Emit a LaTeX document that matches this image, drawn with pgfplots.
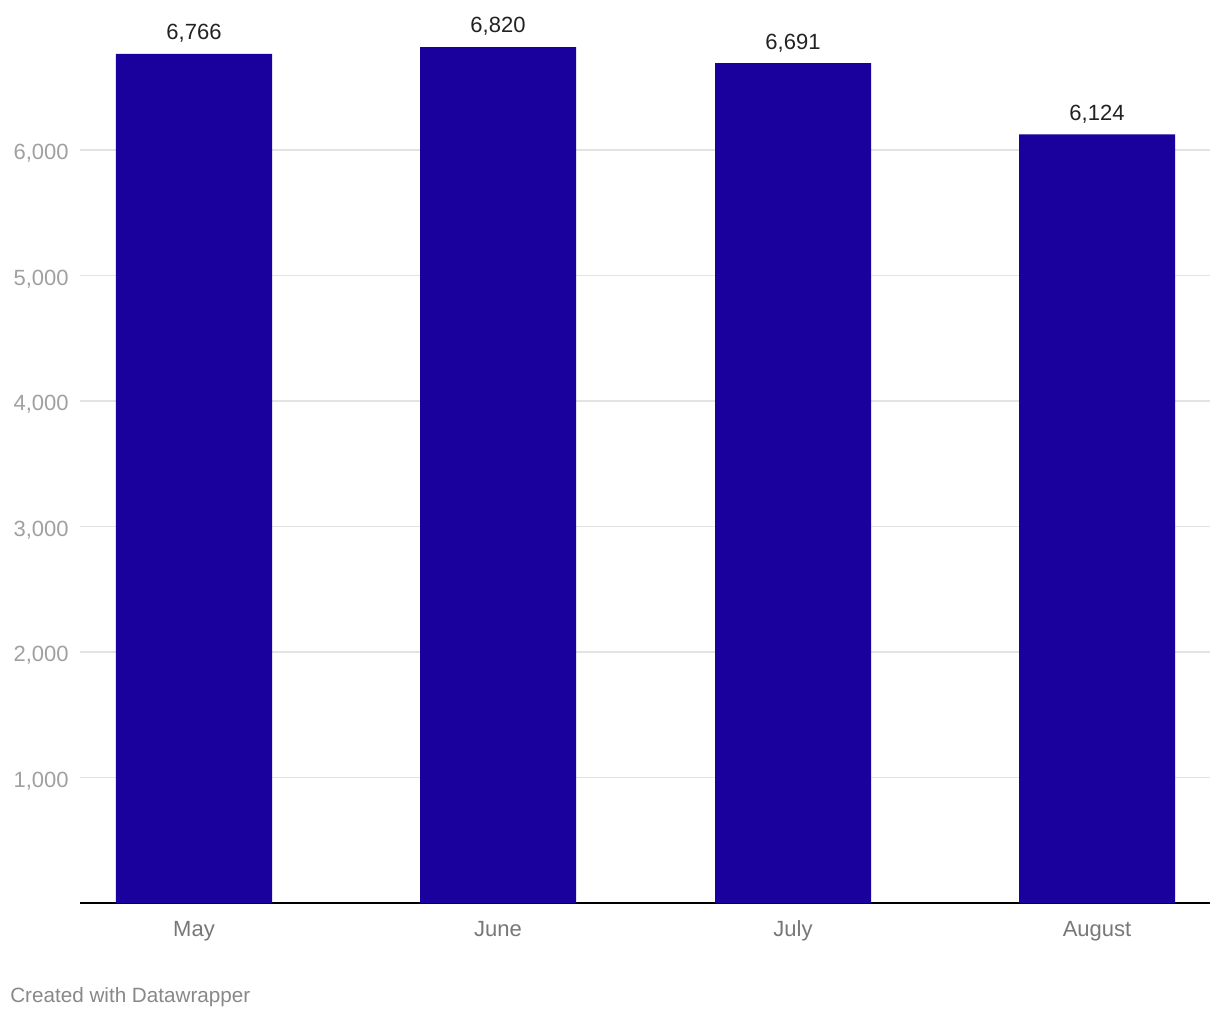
\documentclass[border=0pt]{standalone}
\usepackage{pgfplots}
\pgfplotsset{compat=1.18}
\usepackage{fontspec}
\setmainfont{Liberation Sans}
\definecolor{barc}{HTML}{1A009C}
\definecolor{gridc}{HTML}{E3E3E3}
\definecolor{ytick}{HTML}{A0A0A0}
\definecolor{xtick}{HTML}{777777}
\definecolor{lbl}{HTML}{222222}
\definecolor{credit}{HTML}{888888}
\begin{document}
\begin{tikzpicture}
\begin{axis}[
  at={(0,0)}, anchor=south west,
  scale only axis,
  x=0.75pt, y=0.094125pt,
  xmin=80, xmax=1210, ymin=0, ymax=7195,
  axis y line*=left,
  y axis line style={draw=none},
  ytick style={draw=none},
  axis x line*=bottom,
  x axis line style={black, line width=1.1pt, -},
  ybar, bar width=117pt, bar shift=0pt,
  xtick={194,498,793,1097},
  xticklabels={May,June,July,August},
  xtick style={draw=none},
  xticklabel style={font=\fontsize{16.5}{19}\selectfont, text=xtick, anchor=base, yshift=-21pt},
  ytick={1000,2000,3000,4000,5000,6000},
  ymajorgrids, grid style={gridc, line width=0.9pt},
  yticklabel style={font=\fontsize{16.5}{19}\selectfont, text=ytick, xshift=-5pt, yshift=-2.5pt},
  /pgf/number format/assume math mode=true,
  /pgf/number format/1000 sep={,},
  nodes near coords,
  nodes near coords style={font=\fontsize{16.5}{19}\selectfont, text=lbl, yshift=5pt},
  clip=false,
]
\addplot[fill=barc, draw=none] coordinates {(194,6766) (498,6820) (793,6691) (1097,6124)};
\end{axis}
\node[anchor=west, font=\fontsize{15.5}{18}\selectfont, text=credit, inner sep=0pt] at (-52.5pt,-70.5pt) {Created with Datawrapper};
\path[use as bounding box] (-60pt,-87.75pt) rectangle (855pt,677.25pt);
\end{tikzpicture}
\end{document}
